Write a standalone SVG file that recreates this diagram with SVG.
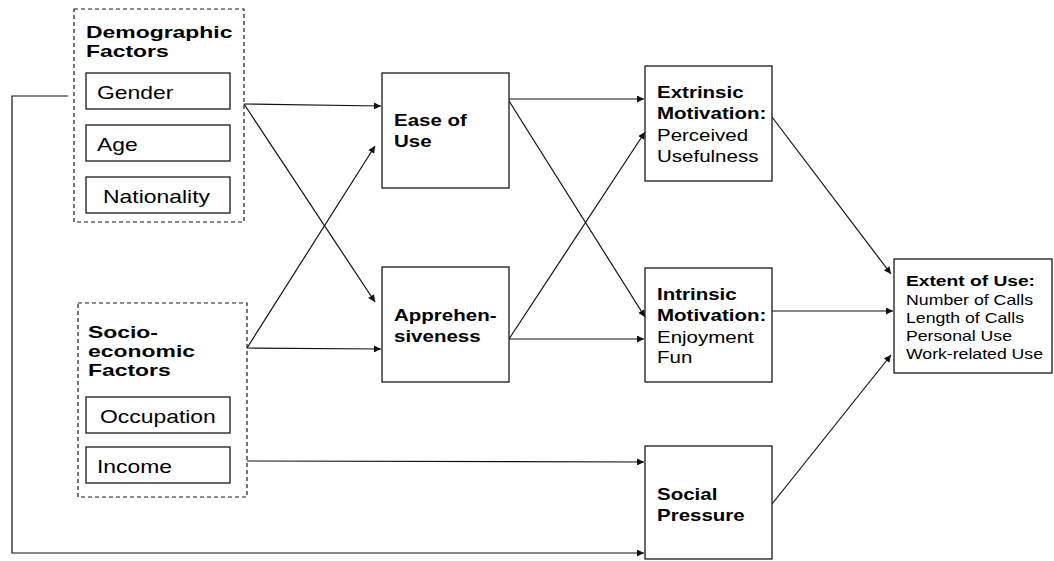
<svg xmlns="http://www.w3.org/2000/svg" width="1054" height="561" viewBox="0 0 1054 561">
  <style>
    .box { fill: #ffffff; stroke: #1a1a1a; stroke-width: 1.3; }
    .group { fill: none; stroke: #1a1a1a; stroke-width: 1.2; stroke-dasharray: 4 3; }
    .edge { fill: none; stroke: #111111; stroke-width: 1.2; }
    text { font-family: "Liberation Sans", Arial, sans-serif; fill: #000000; }
    .big { font-size: 18.5px; }
    .title { font-size: 17px; font-weight: bold; }
    .mid { font-size: 17px; }
    .small { font-size: 14.5px; }
    .b { font-weight: bold; }
  </style>
  <defs>
    <marker id="arrow" viewBox="0 0 10 10" refX="10" refY="5" markerWidth="10" markerHeight="7" markerUnits="userSpaceOnUse" orient="auto">
      <path d="M0,0 L10,5 L0,10 z" fill="#111111"/>
    </marker>
  </defs>

  <!-- connectors -->
  <g id="connectors">
    <!-- demographic group to mediators -->
    <path class="edge" d="M244,104 L381,106" marker-end="url(#arrow)"/>
    <path class="edge" d="M244,104 L375,302" marker-end="url(#arrow)"/>
    <!-- socio-economic group to mediators -->
    <path class="edge" d="M247,348 L375,146" marker-end="url(#arrow)"/>
    <path class="edge" d="M247,348 L381,349" marker-end="url(#arrow)"/>
    <!-- income to social pressure -->
    <path class="edge" d="M247,461 L644,462" marker-end="url(#arrow)"/>
    <!-- demographic loop to social pressure -->
    <path class="edge" d="M68,96 L12,96 L12,553 L644,553" marker-end="url(#arrow)"/>
    <!-- mediators to motivation -->
    <path class="edge" d="M509,99 L644,99" marker-end="url(#arrow)"/>
    <path class="edge" d="M509,101 L645,317" marker-end="url(#arrow)"/>
    <path class="edge" d="M509,339 L645,132" marker-end="url(#arrow)"/>
    <path class="edge" d="M509,339 L644,339" marker-end="url(#arrow)"/>
    <!-- to extent of use -->
    <path class="edge" d="M772,117 L891,274" marker-end="url(#arrow)"/>
    <path class="edge" d="M772,311 L893,311" marker-end="url(#arrow)"/>
    <path class="edge" d="M772,504 L891,355" marker-end="url(#arrow)"/>
  </g>

  <!-- demographic factors -->
  <g id="demographic">
    <rect class="group" x="74" y="9" width="170" height="213"/>
    <text class="title" x="86" y="38" textLength="146.5" lengthAdjust="spacingAndGlyphs">Demographic</text>
    <text class="title" x="86" y="57" textLength="82.7" lengthAdjust="spacingAndGlyphs">Factors</text>
  </g>
  <g id="gender">
    <rect class="box" x="86" y="73" width="144" height="36"/>
    <text class="big" x="97" y="99" textLength="76.4" lengthAdjust="spacingAndGlyphs">Gender</text>
  </g>
  <g id="age">
    <rect class="box" x="86" y="125" width="144" height="36"/>
    <text class="big" x="97" y="151" textLength="40.7" lengthAdjust="spacingAndGlyphs">Age</text>
  </g>
  <g id="nationality">
    <rect class="box" x="86" y="177" width="144" height="36"/>
    <text class="big" x="103" y="203" textLength="107" lengthAdjust="spacingAndGlyphs">Nationality</text>
  </g>

  <!-- socio-economic factors -->
  <g id="socioeconomic">
    <rect class="group" x="78" y="303" width="169" height="194"/>
    <text class="title" x="88" y="338" textLength="70" lengthAdjust="spacingAndGlyphs">Socio-</text>
    <text class="title" x="88" y="357" textLength="107" lengthAdjust="spacingAndGlyphs">economic</text>
    <text class="title" x="88" y="376" textLength="82.7" lengthAdjust="spacingAndGlyphs">Factors</text>
  </g>
  <g id="occupation">
    <rect class="box" x="86" y="397" width="144" height="36"/>
    <text class="big" x="100" y="423" textLength="115.8" lengthAdjust="spacingAndGlyphs">Occupation</text>
  </g>
  <g id="income">
    <rect class="box" x="86" y="447" width="144" height="36"/>
    <text class="big" x="97" y="473" textLength="75" lengthAdjust="spacingAndGlyphs">Income</text>
  </g>

  <!-- mediators -->
  <g id="ease-of-use">
    <rect class="box" x="382" y="73" width="127" height="115"/>
    <text class="mid b" x="394" y="126" textLength="72.9" lengthAdjust="spacingAndGlyphs">Ease of</text>
    <text class="mid b" x="394" y="147" textLength="37.6" lengthAdjust="spacingAndGlyphs">Use</text>
  </g>
  <g id="apprehensiveness">
    <rect class="box" x="382" y="267" width="127" height="115"/>
    <text class="mid b" x="394" y="321" textLength="102.5" lengthAdjust="spacingAndGlyphs">Apprehen-</text>
    <text class="mid b" x="394" y="342" textLength="86.6" lengthAdjust="spacingAndGlyphs">siveness</text>
  </g>

  <!-- motivation and social pressure -->
  <g id="extrinsic">
    <rect class="box" x="645" y="66" width="127" height="115"/>
    <text class="mid b" x="657" y="98" textLength="86.6" lengthAdjust="spacingAndGlyphs">Extrinsic</text>
    <text class="mid b" x="657" y="119" textLength="109.3" lengthAdjust="spacingAndGlyphs">Motivation:</text>
    <text class="mid" x="657" y="141" textLength="91.1" lengthAdjust="spacingAndGlyphs">Perceived</text>
    <text class="mid" x="657" y="162" textLength="101.4" lengthAdjust="spacingAndGlyphs">Usefulness</text>
  </g>
  <g id="intrinsic">
    <rect class="box" x="645" y="268" width="127" height="114"/>
    <text class="mid b" x="657" y="300" textLength="79.7" lengthAdjust="spacingAndGlyphs">Intrinsic</text>
    <text class="mid b" x="657" y="321" textLength="109.3" lengthAdjust="spacingAndGlyphs">Motivation:</text>
    <text class="mid" x="657" y="343" textLength="96.8" lengthAdjust="spacingAndGlyphs">Enjoyment</text>
    <text class="mid" x="657" y="363" textLength="35.3" lengthAdjust="spacingAndGlyphs">Fun</text>
  </g>
  <g id="social-pressure">
    <rect class="box" x="645" y="446" width="127" height="113"/>
    <text class="mid b" x="657" y="500" textLength="60.4" lengthAdjust="spacingAndGlyphs">Social</text>
    <text class="mid b" x="657" y="521" textLength="87.7" lengthAdjust="spacingAndGlyphs">Pressure</text>
  </g>

  <!-- outcome -->
  <g id="extent-of-use">
    <rect class="box" x="894" y="259" width="158" height="114"/>
    <text class="small b" x="906" y="286" textLength="129" lengthAdjust="spacingAndGlyphs">Extent of Use:</text>
    <text class="small" x="906" y="305" textLength="127" lengthAdjust="spacingAndGlyphs">Number of Calls</text>
    <text class="small" x="906" y="323" textLength="118" lengthAdjust="spacingAndGlyphs">Length of Calls</text>
    <text class="small" x="906" y="341" textLength="106" lengthAdjust="spacingAndGlyphs">Personal Use</text>
    <text class="small" x="906" y="359" textLength="137" lengthAdjust="spacingAndGlyphs">Work-related Use</text>
  </g>
</svg>
